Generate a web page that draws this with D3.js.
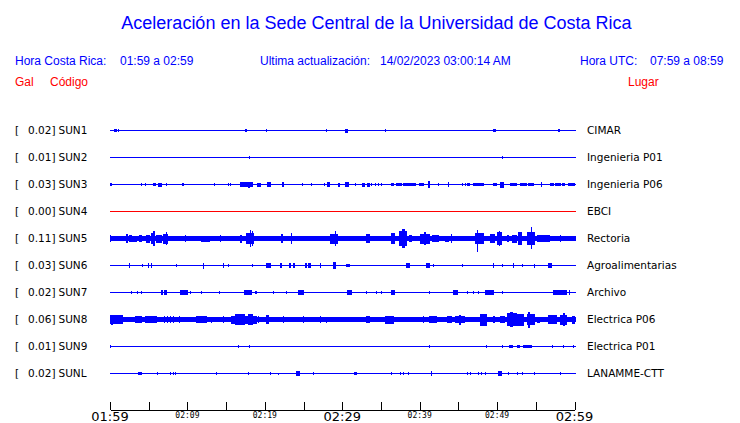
<!DOCTYPE html>
<html><head><meta charset="utf-8">
<script src="https://cdn.jsdelivr.net/npm/d3@7"></script>
<style>body{margin:0;background:#fff;} svg{display:block}</style>
</head><body><svg id="c" width="740" height="423"></svg>
<script>
// ---------- data ----------
const codes  = ["SUN1","SUN2","SUN3","SUN4","SUN5","SUN6","SUN7","SUN8","SUN9","SUNL"];
const gals   = [0.02, 0.01, 0.03, 0.00, 0.11, 0.03, 0.02, 0.06, 0.01, 0.02];
const places = ["CIMAR","Ingenieria P01","Ingenieria P06","EBCI","Rectoria","Agroalimentarias","Archivo","Electrica P06","Electrica P01","LANAMME-CTT"];
const noiseLevel = [0, 0, 0, 0, 2.2, 0, 0, 2, 0, 0];
const traceColor = ["#0000ff","#0000ff","#0000ff","#ff0000","#0000ff","#0000ff","#0000ff","#0000ff","#0000ff","#0000ff"];
const tickMinutes = [0,5,10,15,20,25,30,35,40,45,50,55,60];
const tickLabels  = ["01:59","","02:09","","02:19","","02:29","","02:39","","02:49","","02:59"];
const majorTickMinutes = [0,30,60];

// events: [minute, duration (min), amplitude up, amplitude down (optional)]
const sun1 = [[0.56,0.31,1.3],[1.16,0,1],[17.55,0.13,1.2],[20.26,0,0.8],[27.93,0,0.8],[30.42,0.26,1.5],[35.6,0,1],[49.56,0.35,1.3],[57.97,0.13,1.3]];
const sun2 = [[18.01,0,1],[50.65,0,1]];
const sun3 = [[0,0.22,1.3],[4.1,0,1],[4.53,0.13,1],[5.6,0.31,1.3],[6.25,0.44,1.5],[7.24,0.17,1.3],[9.4,0.1,1.3],[13.45,0,0.7],[15.35,0,1],[15.52,0,1],
  [16.81,1.72,2],[17.84,0.2,2.5],[19.1,0.43,1.5],[20.39,0.39,1.7],[22.33,0.1,1.7],[24.83,0,1],[26.08,0,0.7],[27.71,0,1],[28.15,0.3,1.7],[29.52,0.22,1.5],
  [30.42,0.44,1.7],[31.68,0,1],[32.67,0.21,1.5],[33.27,0.35,1.5],[33.84,0,1],[34.27,0,1],[34.69,0,1],[35.13,0,1],[36.42,0.3,1.3],[37.07,0.65,1.2],
  [37.92,1.64,1.3],[39.99,0.52,1.2],[41.16,0.22,3],[42.45,0,1],[43.74,0.1,1.7],[45.47,0,1],[45.9,0,1],[46.12,0.43,1.2],[46.98,0.87,1.3],[47.59,0.78,1.3],
  [49.56,0.44,1.3],[50.43,0.43,2.5],[51.72,0.87,1.3],[53.01,0.87,1.3],[54.09,0.65,1.3],[55.69,0.1,1.7],[56.89,0.43,1],[57.54,0.4,1.3],[58.0,0.3,1.3],[58.5,0.3,1.3],[59.26,0.74,1.3]];
const sun4 = [];
const sun5 = [[0,0.05,3],[2.07,0.3,4],[2.5,0.39,3],[2.97,0.52,2.5],[3.79,0.31,3],[4.75,0.43,3.5],[5.39,0.43,5],[5.6,0.15,7],[6.04,0.65,3.5],[6.89,0.65,4.5],[7.24,0.1,5.7],
  [9.7,0.1,3],[11.86,1.07,2.5],[14.31,0,2.7],[16.81,0.22,3.5],[17.68,0.86,5],[18.1,0.1,8],[18.4,0.1,7],[22.2,0.21,4],[23.49,0,4.7],
  [28.45,0.94,4.5],[29.09,0.15,7],[33.19,0.43,4],[36.42,0.43,5],[37.4,0.96,7],[37.8,0.25,9],[38.7,0.31,3],[40.08,1.29,4.5],[40.66,0.15,5.7],
  [41.6,0.86,3],[43.32,0.43,2.5],[44.05,0,4],[47.19,1.07,5],[47.41,0.1,8,13],[49.13,0.65,4],[50.0,0.65,6],[50.3,0.1,7],[51.29,0.21,2.7],
  [51.94,0.65,3.5],[52.8,0.44,5.7],[53.88,1.07,6],[54.4,0.12,10.7,10],[55.17,0.43,3],[55.6,1.29,2.6],[58.19,0,3]];
const sun6 = [[2.5,0,2],[4.23,0,1],[4.95,0,1.7],[5.39,0,1.7],[8.53,0,1.3],[12.06,0,2.5],[14.65,0,2],[15.3,0.13,1.2],[18.4,0,0.8],[20.26,0.52,1.7],[20.6,0.1,2.3],
  [21.98,0.22,1.7],[23.18,0.18,1.7],[23.7,0.22,1.7],[25.21,0.3,1.7],[25.7,0.3,1.7],[27.15,0,2.3],[28.87,0.35,2.7],[30.6,0.34,1.3],[38.36,0.34,2.3],
  [40.86,0.43,1.7],[41.73,0,0.8],[45.47,0,1.3],[49.56,0,2],[50.65,0,1],[52.15,0,1.7],[53.23,0,1],[54.86,0,1.3,2.3],[56.67,0.44,1.7]];
const sun7 = [[2.72,0,1.3],[3.58,0,1.3],[4.1,0,1.3],[6.59,0.3,1.7],[7.0,0.33,1.7],[9.05,1.07,1.7],[9.4,0.4,2.3],[10.43,0,1.3],[11.86,0,1],[14.13,0,0.8],
  [17.37,0.95,2],[18.75,0.22,1.3],[21.12,0,1],[22.76,0,1],[24.35,0.65,2.3],[30.73,0.52,2.3],[33.19,0,1],[34.48,0,1],[35.13,0,1],[36.42,0.43,1.7],
  [41.29,0,1.3],[44.31,0.6,1.7],[46.12,0,1],[46.98,0,1],[47.62,0,1],[48.49,1.16,1.7],[50.65,0,1],[57.24,1.81,1.7],[59.39,0,1.7]];
const sun8 = [[0,1.72,4],[0.13,0.2,4.5],[3.23,0.87,3.3],[4.65,1.38,3],[6.98,0,3],[7.37,0,3],[7.76,0,3],[8.19,0,3],[8.96,0,2.7],[11.21,1.29,2.7],
  [13.15,0,2.5],[14.65,0,2.7],[15.74,3.23,3.5],[16.2,1.2,5],[17.9,0.6,5.3],[19.18,0,2.7],[20.17,0.43,4],[22.41,0,2.7],[24.99,0,2.7],[27.15,0,2.7],
  [28.02,0,2.5],[31.46,0,2.3],[33.19,0.43,2.7],[35.56,1.07,3.5],[38.36,0,2.3],[40.51,0,2.7],[41.29,0.96,3],[43.54,0.65,2.7],[44.61,1.29,3],[45.2,0.15,4.5],
  [47.84,0.87,5,6],[49.56,0.22,3],[50.43,0.65,2.7],[51.29,1.29,6],[51.7,0.3,7],[52.58,0.86,5.5],[53.88,1.07,5],[54.05,0.2,7.5],[55.17,0.43,2.5],
  [56.67,1.09,4],[58.19,0.87,4.5],[58.6,0.15,5.7],[59.7,0.3,3.5]];
const sun9 = [[0.09,0,1],[16.59,0,0.7],[18.01,0.1,1],[41.29,0,0.7],[48.62,0,0.7],[50.65,0,0.7],[51.63,0.44,1.3],[52.58,0.43,1.3],[53.44,1.09,1.3],[57.11,0,0.7],[58.61,0,0.7],[59.9,0,1]];
const sunl = [[3.66,0.44,1.3],[6.12,0,0.7],[7.85,0,1.3],[8.15,0,1.3],[8.4,0,1.3],[13.71,0,1],[17.88,0.13,1.3],[20.69,0,0.7],[21.76,0,0.5,1.3],[24.05,0.43,2],
  [26.29,0,1.3],[31.59,0.31,1.3],[36.42,0,0.7],[37.5,0,0.7],[37.92,0,0.7],[38.57,0,1.3],[41.47,0.1,1.7],[46.12,0,1.3],[46.55,0,1.3],[47.62,0,1.3],
  [47.97,0,1.3],[48.49,0,1.3],[50.21,0.44,1.7],[51.5,0,1.3],[52.58,0,1],[53.23,0,1],[54.82,0,1.3],[58.19,0,0.7]];
const traceEvents = [sun1, sun2, sun3, sun4, sun5, sun6, sun7, sun8, sun9, sunl];

// ---------- drawing ----------
const svg = d3.select("#c");
const BLUE = "#0000ff", RED = "#ff0000";
const SANS = "'Liberation Sans', Arial, sans-serif";
const DJ = "'DejaVu Sans', sans-serif";

const x = d3.scaleLinear().domain([0, 60]).range([110, 574.5]);
const rowY = d3.scalePoint().domain(codes).range([130, 373]);
const amp = d3.scaleLinear().domain([0, 13.5]).range([0, 13.5]);

// header
svg.append("text").attr("x", 376.5).attr("y", 29).attr("text-anchor", "middle")
  .style("font", `18px ${SANS}`).attr("fill", BLUE)
  .text("Aceleración en la Sede Central de la Universidad de Costa Rica");

const hdr = [
  {x: 15, t: "Hora Costa Rica:"}, {x: 120, t: "01:59 a 02:59"},
  {x: 260, t: "Ultima actualización:"}, {x: 380, t: "14/02/2023 03:00:14 AM"},
  {x: 580, t: "Hora UTC:"}, {x: 650, t: "07:59 a 08:59"}
];
svg.selectAll("text.hdr").data(hdr).enter().append("text").attr("class", "hdr")
  .attr("x", d => d.x).attr("y", 65).style("font", `12px ${SANS}`).attr("fill", BLUE).text(d => d.t);
const red = [{x: 15, t: "Gal"}, {x: 50, t: "Código"}, {x: 628, t: "Lugar"}];
svg.selectAll("text.red").data(red).enter().append("text").attr("class", "red")
  .attr("x", d => d.x).attr("y", 86).style("font", `12px ${SANS}`).attr("fill", RED).text(d => d.t);

// rows
const rows = svg.selectAll("g.row").data(codes).enter().append("g").attr("class", "row");
rows.each(function(code, i) {
  const g = d3.select(this);
  const c = rowY(code);
  g.append("text").attr("x", 15).attr("y", c + 4).style("font", `10.5px ${DJ}`).attr("fill", "#000").text("[");
  g.append("text").attr("x", 55.5).attr("y", c + 4).attr("text-anchor", "end").style("font", `10.5px ${DJ}`).attr("fill", "#000").text(gals[i].toFixed(2) + "]");
  g.append("text").attr("x", 58.5).attr("y", c + 4).style("font", `10.5px ${DJ}`).attr("fill", "#000").text(code);
  g.append("text").attr("x", 587).attr("y", c + 4).style("font", `10.5px ${DJ}`).attr("fill", "#000").text(places[i]);

  const col = traceColor[i];
  const n = noiseLevel[i];
  const t0 = Math.round(c - amp(n)), t1 = Math.round(c + amp(n)) + 1;
  g.append("rect").attr("x", Math.floor(x(0))).attr("width", Math.round(x(60)) - Math.floor(x(0)) + 1)
    .attr("y", t0).attr("height", t1 - t0).attr("fill", col).attr("shape-rendering", "crispEdges");

  g.selectAll("rect.ev").data(traceEvents[i]).enter().append("rect").attr("class", "ev")
    .attr("shape-rendering", "crispEdges").attr("fill", col)
    .attr("x", d => Math.floor(x(d[0])))
    .attr("width", d => Math.max(1, Math.round(x(d[0] + d[1])) - Math.floor(x(d[0]))))
    .attr("y", d => Math.round(c - amp(d[2])))
    .attr("height", d => Math.round(c + amp(d.length > 3 ? d[3] : d[2])) + 1 - Math.round(c - amp(d[2])));
});

// time axis
const axis = d3.axisBottom(x).tickValues(tickMinutes).tickSizeInner(-8).tickSizeOuter(0).tickFormat("");
const ax = svg.append("g").attr("transform", "translate(0,409.5)").call(axis);
ax.select(".domain").attr("stroke", "#000").attr("stroke-width", 1).attr("shape-rendering", "crispEdges");
ax.selectAll(".tick line").attr("stroke", "#000").attr("shape-rendering", "crispEdges");

svg.selectAll("text.tl").data(tickMinutes.filter((m, i) => tickLabels[i] !== "")).enter().append("text")
  .attr("class", "tl").attr("x", d => x(d)).attr("text-anchor", "middle")
  .attr("y", d => majorTickMinutes.includes(d) ? 421 : 417.5)
  .style("font", d => majorTickMinutes.includes(d) ? `13px ${DJ}` : `8px 'DejaVu Sans Mono', monospace`)
  .attr("fill", "#000")
  .text(d => tickLabels[tickMinutes.indexOf(d)]);
</script></body></html>
